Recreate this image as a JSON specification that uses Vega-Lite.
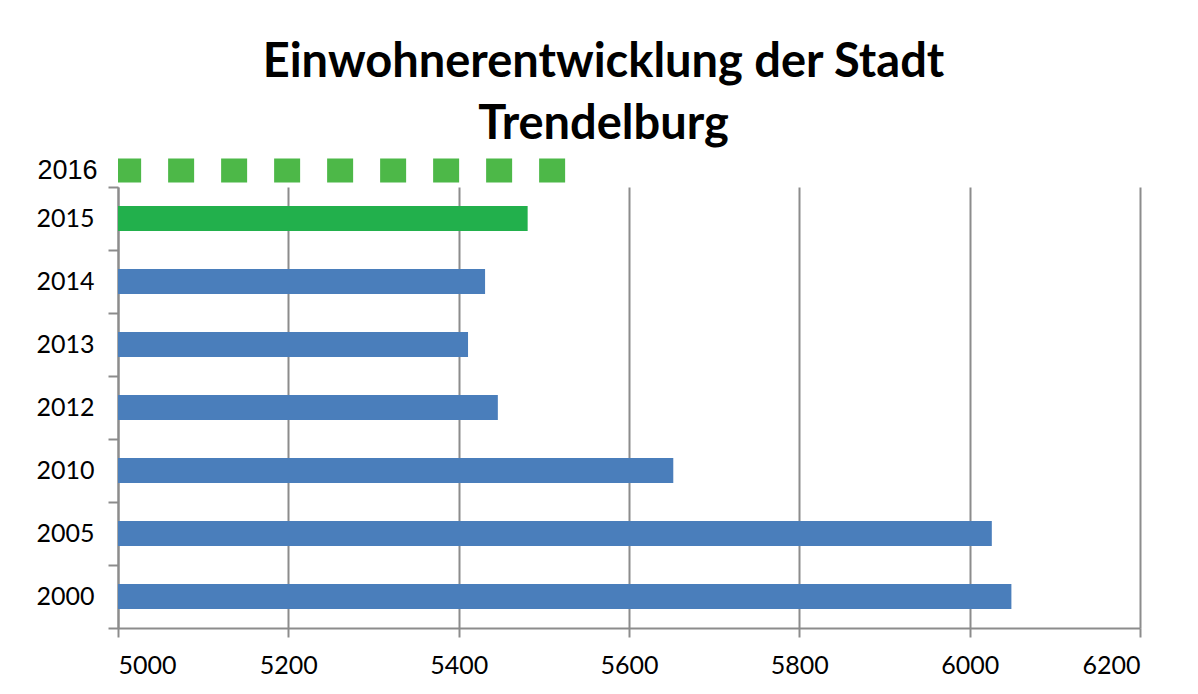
{
  "$schema": "https://vega.github.io/schema/vega-lite/v6.json",
  "background": "white",
  "padding": {"left": 35, "top": 39, "right": 20, "bottom": 10},
  "title": {
    "text": ["Einwohnerentwicklung der Stadt", "Trendelburg"],
    "font": "Lato",
    "fontSize": 47,
    "fontWeight": "bold",
    "lineHeight": 62,
    "color": "#000000",
    "anchor": "middle",
    "frame": "bounds",
    "dx": 15,
    "offset": 7
  },
  "datasets": {
    "einwohner": [
      {"Jahr": "2016", "Einwohner": 5525, "Art": "Prognose"},
      {"Jahr": "2015", "Einwohner": 5481, "Art": "aktuell"},
      {"Jahr": "2014", "Einwohner": 5431, "Art": "historisch"},
      {"Jahr": "2013", "Einwohner": 5411, "Art": "historisch"},
      {"Jahr": "2012", "Einwohner": 5446, "Art": "historisch"},
      {"Jahr": "2010", "Einwohner": 5652, "Art": "historisch"},
      {"Jahr": "2005", "Einwohner": 6026, "Art": "historisch"},
      {"Jahr": "2000", "Einwohner": 6049, "Art": "historisch"}
    ]
  },
  "spacing": -8,
  "vconcat": [
    {
      "width": 1022,
      "height": 23,
      "data": {"name": "einwohner"},
      "transform": [{"filter": "datum.Art === 'Prognose'"}],
      "mark": {"type": "rule", "strokeWidth": 24, "strokeDash": [26, 27], "color": "#4DB848", "strokeCap": "butt"},
      "encoding": {
        "y": {
          "field": "Jahr", "type": "ordinal",
          "axis": {"title": null, "domain": false, "ticks": false, "labelFont": "Liberation Sans", "labelFontSize": 27, "labelColor": "#000000", "labelPadding": 21}
        },
        "x": {
          "field": "Einwohner", "type": "quantitative",
          "scale": {"domain": [5000, 6200], "nice": false, "zero": false},
          "axis": null
        },
        "x2": {"datum": 5000}
      }
    },
    {
      "width": 1022,
      "height": 441,
      "data": {"name": "einwohner"},
      "transform": [{"filter": "datum.Art !== 'Prognose'"}],
      "mark": {"type": "bar", "height": {"band": 0.4}},
      "encoding": {
        "y": {
          "field": "Jahr", "type": "ordinal", "sort": "descending",
          "scale": {"paddingInner": 0, "paddingOuter": 0},
          "axis": {"title": null, "domainColor": "#8C8C8C", "domainWidth": 2, "tickColor": "#8C8C8C", "tickWidth": 2, "tickSize": 10, "tickBand": "extent", "labelFont": "Lato", "labelFontSize": 25, "labelColor": "#000000", "labelPadding": 14}
        },
        "x": {
          "field": "Einwohner", "type": "quantitative",
          "scale": {"domain": [5000, 6200], "nice": false, "zero": false},
          "axis": {"title": null, "format": "d", "values": [5000, 5200, 5400, 5600, 5800, 6000, 6200], "grid": true, "gridColor": "#8C8C8C", "gridWidth": 2, "domainColor": "#8C8C8C", "domainWidth": 2, "tickColor": "#8C8C8C", "tickWidth": 2, "tickSize": 9, "labelFont": "Lato", "labelFontSize": 25, "labelColor": "#000000", "labelPadding": 16}
        },
        "x2": {"datum": 5000},
        "color": {
          "field": "Art", "type": "nominal",
          "scale": {"domain": ["aktuell", "historisch"], "range": ["#22B04C", "#4A7EBB"]},
          "legend": null
        }
      }
    }
  ],
  "config": {"view": {"stroke": null}}
}
